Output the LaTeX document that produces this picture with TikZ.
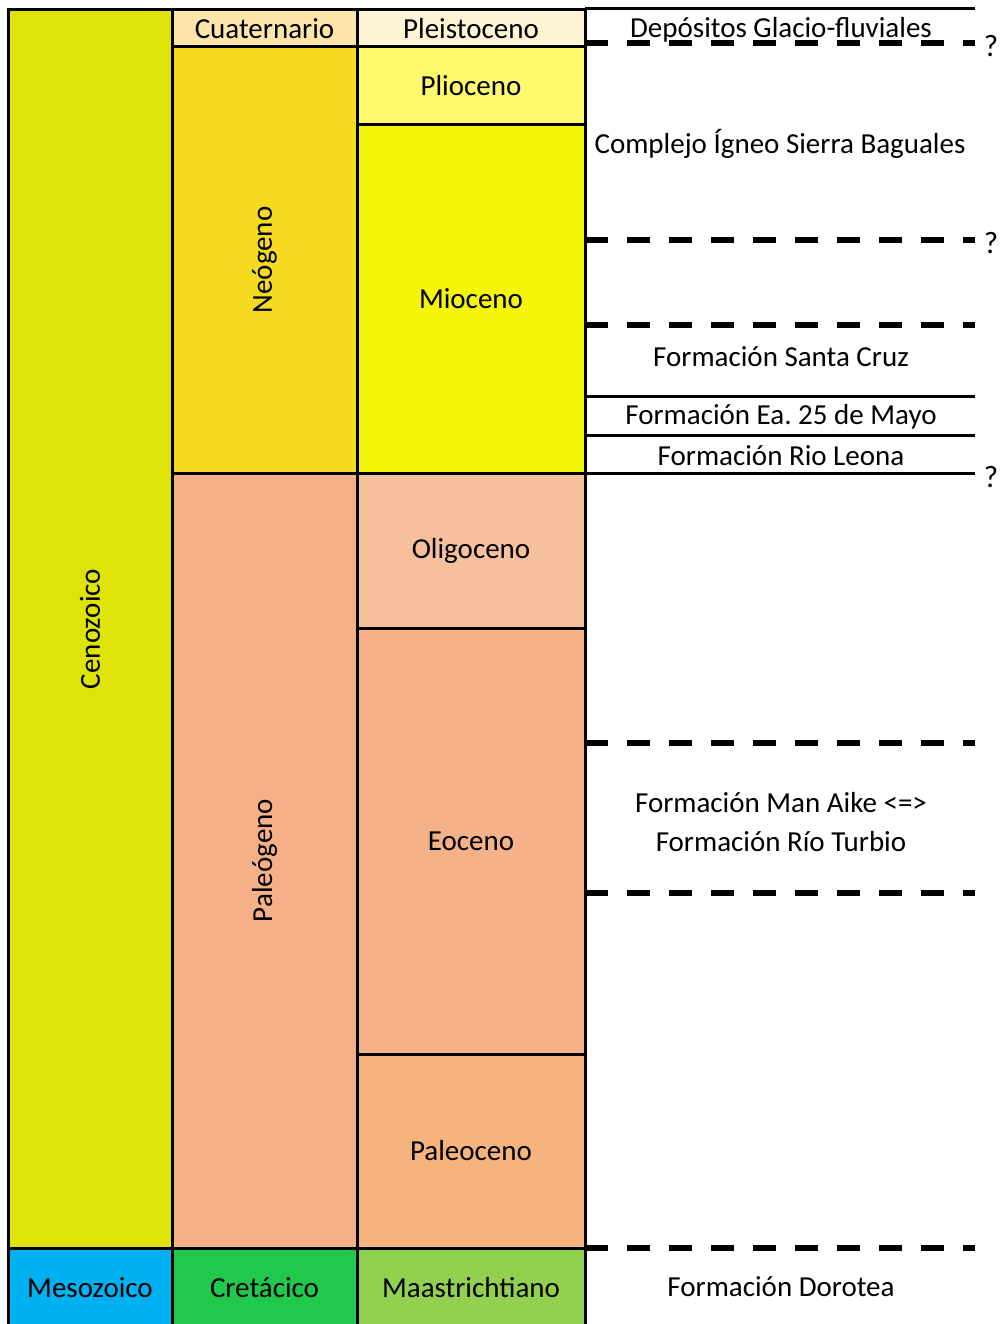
\documentclass[tikz,border=0pt]{standalone}
\usepackage{fontspec}
\setmainfont{Carlito}
\definecolor{ceno}{RGB}{222,227,8}
\definecolor{cuat}{RGB}{253,229,172}
\definecolor{pleis}{RGB}{255,243,214}
\definecolor{neog}{RGB}{244,219,34}
\definecolor{plio}{RGB}{255,249,110}
\definecolor{mio}{RGB}{245,245,10}
\definecolor{paleog}{RGB}{245,176,136}
\definecolor{oligo}{RGB}{246,192,156}
\definecolor{eoc}{RGB}{245,177,135}
\definecolor{paleoc}{RGB}{245,180,125}
\definecolor{meso}{RGB}{0,176,240}
\definecolor{cret}{RGB}{32,200,75}
\definecolor{maas}{RGB}{146,208,80}
\tikzset{
  cell/.style={draw=black, line width=3pt, inner sep=0pt, font=\fontsize{29}{34}\selectfont},
  lbl/.style={inner sep=0pt, font=\fontsize{29}{34}\selectfont},
  qmark/.style={inner sep=0pt, font=\fontsize{31}{36}\selectfont},
  solidline/.style={line width=3pt},
  dashline/.style={line width=5.5pt, dash pattern=on 23pt off 19pt},
}
\begin{document}
\begin{tikzpicture}[x=1pt,y=-1pt]
\useasboundingbox (0,0) rectangle (1002,1324);
% left columns
\node[cell, fill=ceno, minimum width=164pt, minimum height=1238pt] (ceno) at (90,629) {};
\node[lbl, rotate=90] (cenot) at (ceno.center) {Cenozoico};
\node[cell, fill=cuat, minimum width=185pt, minimum height=37pt] (cuat) at (264.5,28.5) {Cuaternario};
\node[cell, fill=pleis, minimum width=228pt, minimum height=37pt] (pleis) at (471,28.5) {Pleistoceno};
\node[cell, fill=neog, minimum width=185pt, minimum height=426pt] (neog) at (264.5,260) {};
\node[lbl, rotate=90] (neogt) at (neog.center) {Neógeno};
\node[cell, fill=plio, minimum width=228pt, minimum height=78pt] (plio) at (471,86) {Plioceno};
\node[cell, fill=mio, minimum width=228pt, minimum height=348pt] (mio) at (471,299) {Mioceno};
\node[cell, fill=paleog, minimum width=185pt, minimum height=775pt] (paleog) at (264.5,860.5) {};
\node[lbl, rotate=90] (paleogt) at (paleog.center) {Paleógeno};
\node[cell, fill=oligo, minimum width=228pt, minimum height=155pt] (oligo) at (471,550.5) {Oligoceno};
\node[cell, fill=eoc, minimum width=228pt, minimum height=426pt] (eoc) at (471,841) {Eoceno};
\node[cell, fill=paleoc, minimum width=228pt, minimum height=194pt] (paleoc) at (471,1151) {Paleoceno};
\node[cell, fill=meso, minimum width=164pt, minimum height=80pt] (meso) at (90,1288) {\raisebox{1pt}{Mesozoico}};
\node[cell, fill=cret, minimum width=185pt, minimum height=80pt] (cret) at (264.5,1288) {\raisebox{1pt}{Cretácico}};
\node[cell, fill=maas, minimum width=228pt, minimum height=80pt] (maas) at (471,1288) {\raisebox{1pt}{Maastrichtiano}};
% right side coordinates
\coordinate (r0) at (975,9);
\coordinate (r1) at (975,43);
\coordinate (r2) at (975,240);
\coordinate (r3) at (975,325);
\coordinate (r4) at (975,396);
\coordinate (r5) at (975,435);
\coordinate (r6) at (975,473);
\coordinate (r7) at (975,743);
\coordinate (r8) at (975,893);
\coordinate (r9) at (975,1248);
\coordinate (l0) at (585,9);
\coordinate (l1) at (585,43);
\coordinate (l2) at (585,240);
\coordinate (l3) at (585,325);
\coordinate (l4) at (585,396);
\coordinate (l5) at (585,435);
\coordinate (l6) at (585,473);
\coordinate (l7) at (585,743);
\coordinate (l8) at (585,893);
\coordinate (l9) at (585,1248);
\draw[solidline] (l0) -- (r0);
\draw[solidline] (l4) -- (r4);
\draw[solidline] (l5) -- (r5);
\draw[solidline] (l6) -- (r6);
\draw[dashline] (l1) -- (r1);
\draw[dashline] (l2) -- (r2);
\draw[dashline] (l3) -- (r3);
\draw[dashline] (l7) -- (r7);
\draw[dashline] (l8) -- (r8);
\draw[dashline] (l9) -- (r9);
% right labels
\node[lbl] (dep) at (781,30) {Depósitos Glacio-fluviales};
\node[lbl] (cig) at (780,144) {Complejo Ígneo Sierra Baguales};
\node[lbl] (fsc) at (781,357) {Formación Santa Cruz};
\node[lbl] (f25) at (781,417) {Formación Ea.\ 25 de Mayo};
\node[lbl] (frl) at (781,456) {Formación Rio Leona};
\node[lbl] (fma) at (781,803) {Formación Man Aike <=>};
\node[lbl] (frt) at (781,842) {Formación Río Turbio};
\node[lbl] (fdo) at (781,1287) {Formación Dorotea};
\node[qmark] (q1) at (991,46) {?};
\node[qmark] (q2) at (991,243) {?};
\node[qmark] (q3) at (991,477) {?};
\end{tikzpicture}
\end{document}
